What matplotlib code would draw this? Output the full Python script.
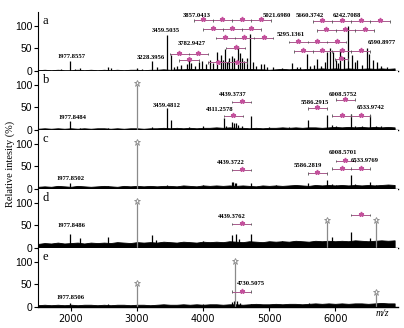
import numpy as np
import matplotlib
matplotlib.use('Agg')
import matplotlib.pyplot as plt

# peak lists (m/z, relative intensity %)
a_mz = [1849, 1978, 2060, 2140, 2560, 2600, 3006, 3080, 3233, 3300, 3460, 3509, 3560, 3600,
        3660, 3751, 3786, 3811, 3880, 3931, 3985, 4040, 4102, 4150, 4213, 4264, 4294, 4325,
        4360, 4390, 4440, 4465, 4525, 4566, 4585, 4620, 4660, 4717, 4760, 4800, 4876, 4918,
        4968, 5062, 5190, 5346, 5420, 5472, 5572, 5620, 5672, 5728, 5790, 5849, 5874, 5925,
        5965, 6015, 6040, 6075, 6126, 6201, 6252, 6300, 6327, 6400, 6478, 6518, 6579, 6629,
        6700, 6780]
a_int = [5, 22, 5, 7, 8, 6, 6, 5, 23, 8, 80, 35, 10, 12,
         14, 16, 25, 18, 12, 20, 22, 15, 24, 18, 42, 36, 25, 48,
         20, 30, 34, 28, 55, 40, 30, 22, 30, 82, 20, 12, 15, 15,
         10, 8, 6, 17, 8, 9, 38, 12, 13, 27, 12, 20, 42, 50,
         42, 24, 18, 49, 31, 100, 35, 20, 24, 14, 52, 38, 24, 20,
         12, 8]

b_mz = [1978, 2140, 2560, 3006, 3230, 3460, 3509, 3780, 4000, 4311, 4350, 4439, 4470, 4500,
        4530, 4585, 4730, 5000, 5300, 5586, 5877, 5952, 6008, 6243, 6299, 6400, 6534, 6620, 6700]
b_int = [20, 4, 5, 100, 6, 48, 22, 6, 8, 26, 10, 18, 15, 16,
         12, 10, 31, 6, 6, 22, 33, 12, 10, 36, 10, 8, 33, 10, 8]

c_mz = [1978, 2200, 2560, 3006, 3460, 4000, 4439, 4460, 4480, 4500, 4730, 5100, 5586, 5877,
        5952, 6008, 6243, 6299, 6534, 6620, 6800]
c_int = [13, 5, 6, 100, 8, 8, 15, 15, 14, 13, 14, 8, 13, 21,
         12, 10, 30, 12, 15, 10, 9]

d_mz = [1978, 2140, 2560, 3006, 3230, 3290, 3460, 4000, 4439, 4500, 4540, 4730, 5200, 5877,
        5950, 6243, 6534, 6620]
d_int = [30, 22, 25, 100, 28, 18, 14, 16, 28, 32, 20, 30, 16, 57,
         25, 35, 22, 57]

e_mz = [1978, 2560, 3006, 4000, 4439, 4470, 4490, 4520, 4560, 4730, 5600, 6620]
e_int = [8, 6, 48, 6, 12, 14, 98, 14, 8, 6, 8, 28]

# peaks flagged with a star
stars = {'b': [3006], 'c': [3006], 'd': [3006, 5877, 6620], 'e': [3006, 4490, 6620]}

# noise floor, one value every 100 m/z from 1500
noise_a = [2, 3, 2, 3, 2, 2, 3, 2, 3, 2, 3, 2, 3, 2, 3, 3, 2, 3, 3, 4, 3, 4, 4, 5, 4, 5, 4, 5,
           4, 5, 5, 4, 5, 4, 4, 3, 4, 5, 4, 5, 4, 5, 5, 6, 5, 6, 5, 6, 5, 5, 6, 5, 6, 5, 6]
noise_b = [3, 4, 3, 4, 3, 4, 3, 4, 3, 4, 4, 3, 4, 3, 4, 4, 3, 4, 4, 5, 4, 5, 4, 5, 4, 5, 5, 6,
           5, 6, 5, 5, 4, 5, 4, 5, 5, 6, 5, 6, 5, 6, 6, 5, 6, 7, 6, 7, 6, 7, 6, 7, 6, 7, 6]
noise_c = [5, 6, 5, 7, 6, 5, 7, 6, 5, 6, 7, 6, 5, 7, 6, 7, 6, 7, 6, 7, 7, 6, 8, 7, 6, 8, 7, 8,
           7, 8, 7, 8, 7, 6, 8, 7, 8, 7, 8, 9, 8, 7, 9, 8, 9, 8, 9, 8, 9, 8, 9, 8, 9, 10, 9]
noise_d = [9, 11, 10, 12, 10, 11, 12, 10, 12, 11, 12, 11, 13, 12, 11, 13, 12, 13, 12, 14, 13,
           12, 14, 13, 12, 14, 13, 14, 13, 15, 14, 13, 15, 14, 13, 15, 14, 15, 14, 16, 15, 14,
           16, 15, 16, 15, 16, 15, 17, 16, 15, 16, 17, 16, 17]
noise_e = [4, 5, 4, 5, 4, 5, 4, 5, 5, 4, 5, 4, 5, 5, 4, 5, 5, 4, 5, 6, 5, 5, 6, 5, 6, 5, 6, 6,
           5, 6, 6, 5, 6, 7, 6, 6, 7, 6, 7, 7, 6, 7, 8, 7, 8, 7, 8, 7, 8, 8, 7, 8, 9, 8, 8]

# NeuAc ladders: tick m/z list and height
ladders = {
    'a': [([3857.04, 4148.1, 4439.2, 4730.3, 5021.70], 112),
          ([4003, 4294, 4585, 4876], 92),
          ([4189, 4480, 4771, 5062], 73),
          ([4350, 4641], 51),
          ([3491.8, 3782.94, 4074], 38),
          ([3640, 3931], 24),
          ([4080, 4371, 4662], 19),
          ([5660.37, 5951.5, 6242.71, 6533.8, 6824.9], 110),
          ([5717.4, 6008.5, 6299.6, 6590.9], 90),
          ([5295.14, 5586.2, 5877.3, 6168.4], 64),
          ([5369.6, 5660.7, 5951.8, 6242.9, 6534], 44),
          ([5990, 6190], 26)],
    'b': [([6008.58, 6299.7], 67), ([4439.37, 4730.5], 62), ([5586.29, 5877.4], 48),
          ([4311.26, 4602.3], 31), ([5951.8, 6242.9, 6533.97], 32)],
    'c': [([6008.57, 6299.7], 62), ([4439.37, 4730.5], 42), ([5586.28, 5877.4], 35),
          ([5951.8, 6242.9, 6533.98], 45)],
    'd': [([4439.38, 4730.5], 53), ([6243, 6534], 73)],
    'e': [([4439.4, 4730.51], 34)],
}

# mass labels: text, x (m/z), y (%)
labels = {
    'a': [('3857.0413', 3902, 123), ('5021.6980', 5125, 123), ('5660.3742', 5623, 123),
          ('6242.7088', 6181, 123), ('3459.5035', 3434, 90), ('5295.1361', 5321, 81),
          ('3782.9427', 3826, 60), ('6590.8977', 6709, 64), ('3228.3956', 3208, 31),
          ('1977.8557', 2000, 33)],
    'b': [('4439.3737', 4450, 79), ('3459.4812', 3454, 54), ('4311.2578', 4258, 45),
          ('5586.2915', 5693, 61), ('6008.5752', 6121, 79), ('6533.9742', 6538, 50),
          ('1977.8484', 2020, 28)],
    'c': [('1977.8502', 1995, 23), ('4439.3722', 4425, 58), ('5586.2819', 5581, 51),
          ('6008.5701', 6121, 80), ('6533.9769', 6453, 63)],
    'd': [('1977.8486', 2000, 50), ('4439.3762', 4430, 70)],
    'e': [('1977.8506', 2000, 21), ('4730.5075', 4505, 52)],
}

panels = ['a', 'b', 'c', 'd', 'e']
spectra = {'a': (a_mz, a_int), 'b': (b_mz, b_int), 'c': (c_mz, c_int),
           'd': (d_mz, d_int), 'e': (e_mz, e_int)}
noise = {'a': noise_a, 'b': noise_b, 'c': noise_c, 'd': noise_d, 'e': noise_e}
noise_mz = np.arange(1500, 6950, 100)

pink = '#c4509c'
fig = plt.figure(figsize=(4.04, 3.28), dpi=100)
axs = fig.subplots(5, 1, sharex=True, gridspec_kw=dict(hspace=0))
fig.subplots_adjust(left=0.094, right=0.985, bottom=0.064, top=0.963)

for ax, p in zip(axs, panels):
    mz, inten = spectra[p]
    ax.fill_between(noise_mz, 0, noise[p], color='k', lw=0.6)
    for m, h in zip(mz, inten):
        col = '#8a8a8a' if m in stars.get(p, []) else 'k'
        ax.vlines(m, 0, h, color=col, lw=0.9)
    for m in stars.get(p, []):
        h = inten[mz.index(m)]
        ax.plot(m, h + 4, marker='*', ms=5, mfc='white', mec='#888', mew=0.6, clip_on=False)
    for ticks, y in ladders[p]:
        ax.hlines(y, ticks[0], ticks[-1], color='#a85a8c', lw=0.7)
        ax.vlines(ticks, y - 3, y + 3, color='#555', lw=0.6)
        mids = [(ticks[i] + ticks[i + 1]) / 2 for i in range(len(ticks) - 1)]
        ax.plot(mids, [y + 2] * len(mids), ls='none', marker='*', ms=3.5, color=pink, mec=pink)
    for txt, x, y in labels[p]:
        ha = 'left' if p == 'e' and txt.startswith('4730') else 'center'
        ax.text(x, y, txt, fontsize=4.8, fontweight='bold', family='Liberation Serif',
                ha=ha, va='center')
    ax.text(1570, 110, p, fontsize=9, family='Liberation Serif', va='center')
    ax.set_xlim(1500, 6950)
    ax.set_ylim(0, 130)
    ax.set_yticks([0, 50, 100])
    ax.tick_params(axis='y', labelsize=7.5, length=3, width=0.8, pad=1)
    for lab in ax.get_yticklabels():
        lab.set_family('Liberation Sans')
    ax.spines['top'].set_visible(False)
    ax.spines['right'].set_visible(False)
    ax.spines['left'].set_linewidth(0.8)
    ax.spines['bottom'].set_linewidth(1.0)
    if p != 'e':
        ax.tick_params(axis='x', length=0, labelbottom=False)

axs[-1].set_xticks([2000, 3000, 4000, 5000, 6000])
axs[-1].tick_params(axis='x', labelsize=7, length=3, width=0.8, pad=2)
axs[-1].text(6720, -15, 'm/z', style='italic', fontsize=7, family='Liberation Serif',
             ha='center', va='center')
fig.text(0.025, 0.5, 'Relative intesity (%)', rotation=90, fontsize=7.5,
         family='Liberation Serif', ha='center', va='center')

fig.savefig('out.png', dpi=100)
